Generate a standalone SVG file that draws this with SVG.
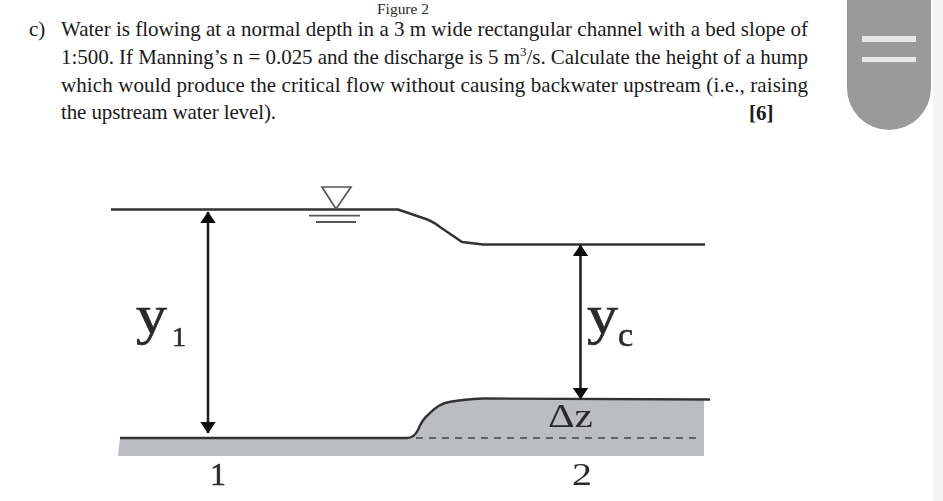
<svg xmlns="http://www.w3.org/2000/svg" width="943" height="501" viewBox="0 0 943 501">
<style>
.t{font-family:"Liberation Serif","Times New Roman",serif;font-size:21px;fill:#1a1a1a}
.l{fill:none;stroke:#333;stroke-width:2.4;stroke-linejoin:round}
.a{fill:none;stroke:#222;stroke-width:2.6}
.m{font-family:"Liberation Serif","Times New Roman",serif;fill:#2a2a2a}
.h{stroke:#2a2a2a;stroke-width:0.6}
.b{filter:url(#soft)}
</style>
<defs>
<filter id="soft" x="-5%" y="-5%" width="110%" height="110%"><feGaussianBlur stdDeviation="0.45"/></filter>
<marker id="ah" viewBox="0 0 10 10" refX="9.5" refY="5" markerWidth="12" markerHeight="16" markerUnits="userSpaceOnUse" orient="auto-start-reverse" preserveAspectRatio="none"><path d="M0 0L10 5L0 10Z" fill="#111"/></marker>
</defs>
<rect width="943" height="501" fill="#fff"/>
<rect x="933" y="0" width="10" height="501" fill="#f4f4f4"/>
<g id="scroll-handle">
<path d="M847 0H931V88A42 42 0 0 1 847 88Z" fill="#9a9a9a"/>
<rect x="862" y="36" width="54" height="6" fill="#e8e8e8"/>
<rect x="862" y="57" width="54" height="5" fill="#e8e8e8"/>
</g>
<g id="question">
<text class="m" x="377" y="14" font-size="14" textLength="52" lengthAdjust="spacingAndGlyphs">Figure 2</text>
<text class="t" x="29" y="36">c)</text>
<text class="t" x="61" y="36" textLength="747" lengthAdjust="spacing">Water is flowing at a normal depth in a 3 m wide rectangular channel with a bed slope of</text>
<text class="t" x="61" y="64" textLength="747" lengthAdjust="spacing">1:500. If Manning’s n = 0.025 and the discharge is 5 m<tspan font-size="13" dy="-8">3</tspan><tspan dy="8">/s. Calculate the height of a hump</tspan></text>
<text class="t" x="61" y="92" textLength="747" lengthAdjust="spacing">which would produce the critical flow without causing backwater upstream (i.e., raising</text>
<text class="t" x="61" y="119" textLength="215" lengthAdjust="spacing">the upstream water level).</text>
<text class="t" x="749" y="120" font-weight="bold">[6]</text>
</g>
<g id="channel-bed" class="b">
<path d="M118 456L120 438H407C412 437 416 434 418 430C421 422 425 417 430 413C436 407 442 403 449 402C460 400 470 399 483 399H704V456Z" fill="#bcbdc0"/>
<path class="l" d="M120 438H407C412 438 416 434 418 430C421 422 425 417 430 413C436 407 442 403 449 402C460 400 470 399 483 398.500L710 399.500"/>
<path d="M416 438H698" fill="none" stroke="#444" stroke-width="1.600" stroke-dasharray="7 6"/>
</g>
<g id="water-surface" class="b">
<path class="l" d="M111 209.500H398L423 218C430 220 435 223 440 227L462 242L483 244.500H705"/>
<path d="M322 187H351L336 209Z" fill="none" stroke="#555" stroke-width="1.700"/>
<path d="M309 215.700H360M316 222H356" fill="none" stroke="#555" stroke-width="1.800"/>
</g>
<g id="connectors" class="b">
<path class="a" d="M208 212V433" marker-start="url(#ah)" marker-end="url(#ah)"/>
<path class="a" d="M580.500 245V399" marker-start="url(#ah)" marker-end="url(#ah)"/>
</g>
<g id="label-y1" class="b"><text class="m h" x="136" y="333" font-size="54" textLength="31" lengthAdjust="spacingAndGlyphs">y</text><text class="m h" x="172" y="346" font-size="28">1</text></g>
<g id="label-yc" class="b"><text class="m h" x="587" y="333" font-size="54" textLength="31" lengthAdjust="spacingAndGlyphs">y</text><text class="m h" x="618" y="346" font-size="34">c</text></g>
<g id="label-dz" class="b"><text class="m" x="548" y="427" font-size="34" textLength="45" lengthAdjust="spacingAndGlyphs">Δz</text></g>
<g id="label-1" class="b"><text class="m h" x="218" y="485" font-size="32" text-anchor="middle">1</text></g>
<g id="label-2" class="b"><text class="m" x="582" y="485" font-size="32" text-anchor="middle" textLength="20" lengthAdjust="spacingAndGlyphs">2</text></g>
</svg>
